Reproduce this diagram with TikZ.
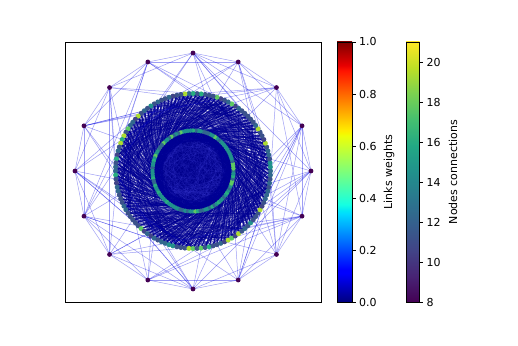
\documentclass[tikz,border=0pt]{standalone}
\usepackage{fontspec}
\setmainfont{DejaVu Sans}

\definecolor{vA}{RGB}{68,1,84}
\definecolor{vH}{RGB}{65,68,135}
\definecolor{vB}{RGB}{59,82,139}
\definecolor{vC}{RGB}{49,104,142}
\definecolor{vD}{RGB}{33,145,140}
\definecolor{vE}{RGB}{40,174,128}
\definecolor{vF}{RGB}{94,201,98}
\definecolor{vG}{RGB}{173,220,48}
\definecolor{edgeblue}{rgb}{0,0,0.9}
\definecolor{jetlow}{rgb}{0,0,0.58}
\definecolor{jetcore}{rgb}{0,0,0.55}
\definecolor{innerblue}{rgb}{0.25,0.25,0.85}

% colour pools for the ring nodes
\colorlet{mc0}{vB}\colorlet{mc1}{vB}\colorlet{mc2}{vB}\colorlet{mc3}{vB}
\colorlet{mc4}{vB}\colorlet{mc5}{vB}\colorlet{mc6}{vH}\colorlet{mc7}{vC}
\colorlet{mc8}{vC}\colorlet{mc9}{vC}\colorlet{mc10}{vC}\colorlet{mc11}{vB}
\colorlet{mc12}{vD}\colorlet{mc13}{vB}\colorlet{mc14}{vF}\colorlet{mc15}{vE}
\colorlet{mc16}{vG}\colorlet{mc17}{vB}\colorlet{mc18}{vC}\colorlet{mc19}{vH}
\colorlet{ic0}{vC}\colorlet{ic1}{vD}\colorlet{ic2}{vD}\colorlet{ic3}{vD}
\colorlet{ic4}{vD}\colorlet{ic5}{vC}\colorlet{ic6}{vD}\colorlet{ic7}{vE}
\colorlet{ic8}{vD}\colorlet{ic9}{vF}

\pgfdeclareverticalshading{jetbar}{100bp}{rgb(0bp)=(0,0,0.5); rgb(25bp)=(0,0,0.5);
 rgb(30.5bp)=(0,0,1); rgb(31.25bp)=(0,0,1); rgb(42bp)=(0,0.86,1);
 rgb(42.5bp)=(0,0.9,0.968); rgb(43.75bp)=(0.081,1,0.887); rgb(57bp)=(0.935,1,0.032);
 rgb(57.5bp)=(0.968,0.963,0); rgb(58bp)=(1,0.926,0); rgb(69.5bp)=(1,0.074,0);
 rgb(70.5bp)=(0.909,0,0); rgb(75bp)=(0.5,0,0); rgb(100bp)=(0.5,0,0)}
\pgfdeclareverticalshading{virbar}{100bp}{rgb(0bp)=(0.267,0.004,0.329);
 rgb(25bp)=(0.267,0.004,0.329); rgb(30bp)=(0.282,0.141,0.459);
 rgb(35bp)=(0.255,0.267,0.529); rgb(40bp)=(0.208,0.373,0.553);
 rgb(45bp)=(0.165,0.471,0.557); rgb(50bp)=(0.129,0.569,0.549);
 rgb(55bp)=(0.133,0.659,0.518); rgb(60bp)=(0.267,0.749,0.439);
 rgb(65bp)=(0.478,0.820,0.318); rgb(70bp)=(0.741,0.875,0.149);
 rgb(75bp)=(0.992,0.906,0.145); rgb(100bp)=(0.992,0.906,0.145)}

\tikzset{
  outeredge/.style={draw=edgeblue, draw opacity=0.38, line width=0.5pt},
  denseedge/.style={draw=jetlow, draw opacity=0.6, line width=0.45pt},
  inneredge/.style={draw=innerblue, draw opacity=0.18, line width=0.4pt},
  frameline/.style={draw=black, line width=0.8pt},
  ticklab/.style={anchor=west, inner sep=0pt, font=\fontsize{11}{13}\selectfont},
  barlabel/.style={rotate=90, inner sep=0pt, font=\fontsize{11}{13}\selectfont}
}

\begin{document}
\begin{tikzpicture}[x=1pt,y=1pt]
\useasboundingbox (0,0) rectangle (518,345);
\fill[white] (0,0) rectangle (518,345);
\pgfmathsetseed{12}

\begin{scope}[shift={(193,174)}]
  % node positions
  \foreach \k in {0,...,15}{\coordinate (o\k) at (\k*22.5:118);}
  \foreach \i in {0,...,119}{\coordinate (m\i) at (\i*3:77.5);}
  \foreach \i in {0,...,99}{\coordinate (n\i) at (\i*3.6:40.5);}

  % core of inner edges
  \node[circle, fill=jetcore, minimum size=81pt, inner sep=0pt] (core) at (0,0) {};
  \foreach \i in {0,...,99}{
    \foreach \r in {1,2}{
      \pgfmathtruncatemacro\j{mod(\i+25+int(rnd*50),100)}
      \draw[inneredge] (n\i) -- (n\j);
    }
  }

  % edges of the middle ring
  \foreach \i in {0,...,119}{
    \foreach \r in {1,...,7}{
      \pgfmathtruncatemacro\j{mod(round(\i*100/120+100+3+rnd*28),100)}
      \draw[denseedge] (m\i) -- (n\j);
    }
    \foreach \r in {1,2,3}{
      \pgfmathtruncatemacro\j{mod(\i+18+int(rnd*22),120)}
      \draw[denseedge] (m\i) -- (m\j);
    }
  }

  % edges of the outer ring
  \foreach \k in {0,...,15}{
    \pgfmathtruncatemacro\a{mod(\k+1,16)}
    \pgfmathtruncatemacro\b{mod(\k+2,16)}
    \pgfmathtruncatemacro\c{mod(\k+3+int(rnd*3),16)}
    \draw[outeredge] (o\k) -- (o\a);
    \draw[outeredge] (o\k) -- (o\b);
    \draw[outeredge] (o\k) -- (o\c);
    \foreach \r in {1,...,5}{
      \pgfmathtruncatemacro\j{mod(round(\k*7.5+120+(rnd-0.5)*40),120)}
      \draw[outeredge] (o\k) -- (m\j);
    }
  }

  % nodes
  \foreach \i in {0,...,99}{
    \pgfmathtruncatemacro\c{int(rnd*10)}
    \fill[ic\c] (n\i) circle (2.2);
  }
  \foreach \i in {0,...,119}{
    \pgfmathtruncatemacro\c{int(rnd*20)}
    \fill[mc\c] (m\i) circle (2.5);
  }
  \foreach \k in {0,...,15}{\fill[vA] (o\k) circle (2.4);}
\end{scope}

% axes frame
\draw[frameline] (65,43) rectangle (321,303);

% colour bar of link weights
\shade[shading=jetbar] (337,43) rectangle (352,303);
\draw[frameline] (337,43) rectangle (352,303);
\foreach \v/\lab in {0/0.0,0.2/0.2,0.4/0.4,0.6/0.6,0.8/0.8,1/1.0}{
  \draw[line width=0.8pt] (352,43+260*\v) -- (355.5,43+260*\v);
  \node[ticklab] at (359,43+260*\v) {\lab};
}
\node[barlabel] (lw) at (389,173) {Links weights};

% colour bar of node connections
\shade[shading=virbar] (406,43) rectangle (419.5,303);
\draw[frameline] (406,43) rectangle (419.5,303);
\foreach \v in {8,10,...,20}{
  \draw[line width=0.8pt] (419.5,43+20*\v-160) -- (423,43+20*\v-160);
  \node[ticklab] at (426.5,43+20*\v-160) {\v};
}
\node[barlabel] (nc) at (453,173) {Nodes connections};
\end{tikzpicture}
\end{document}
